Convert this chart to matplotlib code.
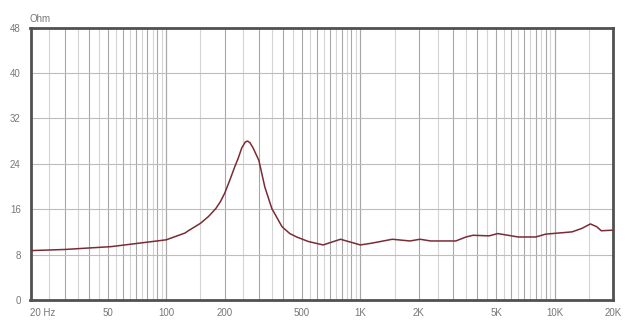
import numpy as np
import matplotlib.pyplot as plt

# Impedance curve (Hz, Ohm)
freq = [20, 30, 52, 100, 125, 130, 150, 165, 180, 190, 200, 212, 225, 235, 245, 255, 262,
        270, 280, 300, 322, 350, 395, 433, 470, 540, 643, 790, 1000, 1140, 1460, 1800,
        2030, 2300, 3100, 3500, 3800, 4600, 5100, 6500, 8000, 9000, 12300, 13800, 15300,
        16500, 17400, 20000]
ohm = [8.7, 8.9, 9.4, 10.6, 11.8, 12.2, 13.5, 14.7, 16.1, 17.3, 18.8, 21.0, 23.4, 25.0,
       26.8, 27.8, 28.0, 27.7, 26.8, 24.6, 19.9, 16.1, 12.9, 11.7, 11.1, 10.3, 9.7, 10.7,
       9.7, 10.0, 10.7, 10.4, 10.7, 10.4, 10.4, 11.1, 11.4, 11.3, 11.7, 11.1, 11.1, 11.6,
       12.0, 12.6, 13.4, 12.9, 12.2, 12.3]

xticks = [20, 50, 100, 200, 500, 1000, 2000, 5000, 10000, 20000]
xticklabels = ['20 Hz', '50', '100', '200', '500', '1K', '2K', '5K', '10K', '20K']
yticks = [0, 8, 16, 24, 32, 40, 48]

fig = plt.figure(figsize=(6.4, 3.3), dpi=100)
ax = fig.add_axes([30.5 / 640, 1 - 300 / 330, (613 - 30.5) / 640, (300 - 27.5) / 330])
ax.set_xscale('log')
ax.set_xlim(20, 20000)
ax.set_ylim(0, 48)

# vertical grid: 1, 1.5, 2, ... 10 per decade
for dec in [10, 100, 1000, 10000]:
    for m in np.arange(1, 10.01, 0.5):
        f = dec * m
        if f <= 20 or f >= 20000:
            continue
        c = '#a8a8a8' if m == int(m) else '#d4d4d4'
        ax.axvline(f, color=c, lw=0.8, zorder=1)
for y in yticks[1:-1]:
    ax.axhline(y, color='#bdbdbd', lw=0.8, zorder=1)

ax.plot(freq, ohm, color='#7a2c34', lw=1.1, zorder=3)

ax.set_xticks(xticks)
ax.set_xticklabels(xticklabels)
ax.xaxis.set_minor_locator(plt.NullLocator())
ax.set_yticks(yticks)
ax.tick_params(length=0, labelsize=7, labelcolor='#777777')
ax.tick_params(axis='x', pad=6)
ax.tick_params(axis='y', pad=7)
for lab in ax.get_xticklabels():
    lab.set_fontfamily('Liberation Sans')
for lab in ax.get_yticklabels():
    lab.set_fontfamily('Liberation Sans')
ax.get_xticklabels()[0].set_horizontalalignment('left')

for s in ax.spines.values():
    s.set_color('#505050')
    s.set_linewidth(2.0)

fig.text(30 / 640, 1 - 19 / 330, 'Ohm', fontsize=7, color='#777777',
         family='Liberation Sans', va='center')

fig.savefig('out.png', dpi=100)
